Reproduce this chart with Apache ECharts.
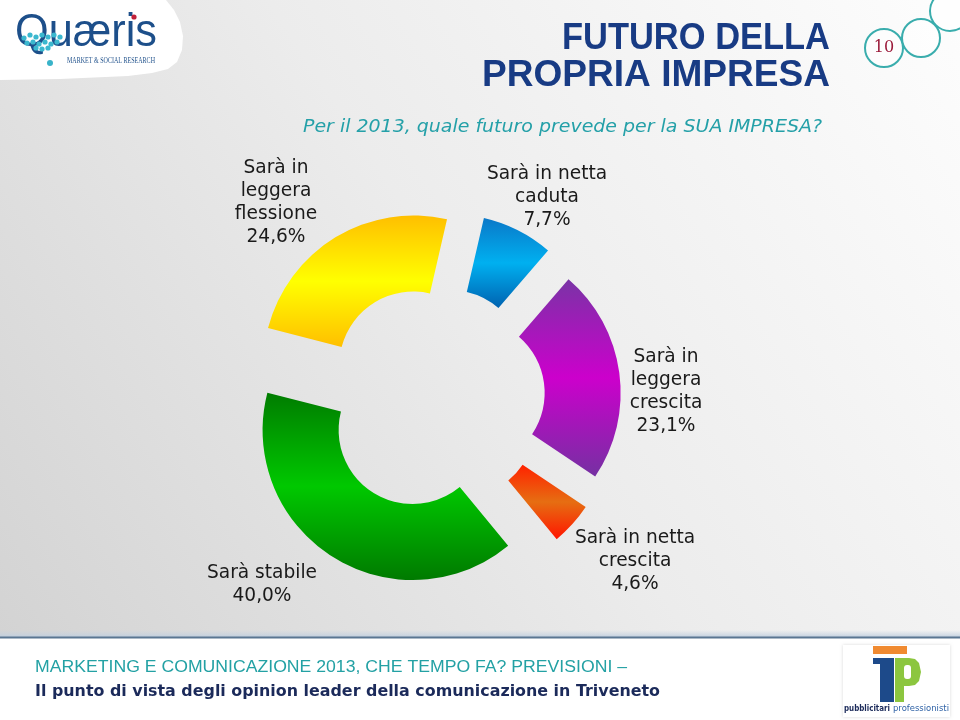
<!DOCTYPE html>
<html>
<head>
<meta charset="utf-8">
<script src="https://cdn.jsdelivr.net/npm/echarts@6/dist/echarts.min.js"></script>
<style>html,body{margin:0;padding:0;background:#fff}#c{width:960px;height:720px}</style>
</head>
<body>
<div id="c"></div>
<script>
// ---- data ----
const categories = ['Sarà in netta\ncaduta', 'Sarà in\nleggera\ncrescita', 'Sarà in netta\ncrescita', 'Sarà stabile', 'Sarà in\nleggera\nflessione'];
const values = [7.7, 23.1, 4.6, 40.0, 24.6];
const titleLines = ['FUTURO DELLA', 'PROPRIA IMPRESA'];
const subtitle = 'Per il 2013, quale futuro prevede per la SUA IMPRESA?';
const footer1 = 'MARKETING E COMUNICAZIONE 2013, CHE TEMPO FA? PREVISIONI –';
const footer2 = 'Il punto di vista degli opinion leader della comunicazione in Triveneto';
const pageNo = '10';

// ---- styles / layout ----
const sliceColors = [
  ['#0a78c8', '#00b0f0', '#0062b0'],
  ['#7a33a6', '#cc00cc', '#7530a2'],
  ['#ff2200', '#e66e12', '#ff1500'],
  ['#007c00', '#00c800', '#007a00'],
  ['#ffbf00', '#ffff00', '#ffbf00']
];
const labelPos = [[547, 197], [666, 392], [635, 561], [262, 585], [276, 203]];

function measure(text, font) {
  const ctx = document.createElement('canvas').getContext('2d');
  ctx.font = font;
  return ctx.measureText(text).width;
}
function fitText(text, font, x, y, width, fill, align) {
  const s = width / measure(text, font);
  return {
    type: 'text', x: x, y: y, scaleX: s, z: 5,
    style: { text: text, font: font, fill: fill, textAlign: align, align: align,
             textVerticalAlign: 'middle', verticalAlign: 'middle' }
  };
}
function fmt(v) { return v.toFixed(1).replace('.', ',') + '%'; }

const chart = echarts.init(document.getElementById('c'), null, { renderer: 'canvas' });

const titleFont = 'bold 36px "Liberation Sans"';
const graphics = [
  // background
  { type: 'rect', z: -10, shape: { x: 0, y: 0, width: 960, height: 637 },
    style: { fill: { type: 'linear', x: 1, y: 0, x2: 0, y2: 1,
      colorStops: [{ offset: 0, color: '#fdfdfd' }, { offset: 0.5, color: '#ececec' }, { offset: 1, color: '#d3d3d3' }] } } },
  { type: 'rect', z: -10, shape: { x: 0, y: 637, width: 960, height: 83 }, style: { fill: '#ffffff' } },
  { type: 'rect', z: -9, shape: { x: 0, y: 630, width: 960, height: 7 },
    style: { fill: { type: 'linear', x: 0, y: 0, x2: 0, y2: 1,
      colorStops: [{ offset: 0, color: 'rgba(200,212,225,0)' }, { offset: 1, color: 'rgba(190,205,222,0.9)' }] } } },
  { type: 'line', z: -8, shape: { x1: 0, y1: 637.5, x2: 960, y2: 637.5 }, style: { stroke: '#5a7692', lineWidth: 2 } },
  // logo blob
  { type: 'polygon', z: -5, shape: { points: [[0,0],[166,0],[174,10],[180,22],[183,36],[182,50],[177,62],[168,69],[152,73],[128,76],[60,79],[0,80]] },
    style: { fill: '#ffffff' } },
  fitText('Quæris', '46px "Liberation Sans"', 15, 33, 142, '#1d4f8a', 'left'),
  fitText('MARKET & SOCIAL RESEARCH', '9px "Liberation Serif"', 67, 61, 88, '#1d4f8a', 'left'),
  { type: 'circle', z: 6, shape: { cx: 134, cy: 17, r: 2.6 }, style: { fill: '#c0203a' } },
  { type: 'circle', z: 6, shape: { cx: 50, cy: 63, r: 3 }, style: { fill: '#39b3c9' } },
  // titles
  fitText(titleLines[0], titleFont, 830, 39, 268, '#183b84', 'right'),
  fitText(titleLines[1], titleFont, 830, 76, 348, '#183b84', 'right'),
  fitText(subtitle, 'italic 18px "DejaVu Sans"', 303, 127, 519, '#24a0a8', 'left'),
  // circles
  { type: 'circle', z: 5, shape: { cx: 884, cy: 48, r: 19 }, style: { fill: 'rgba(255,255,255,0.6)', stroke: '#3aadad', lineWidth: 2 } },
  { type: 'circle', z: 5, shape: { cx: 921, cy: 38, r: 19 }, style: { fill: 'rgba(255,255,255,0.6)', stroke: '#3aadad', lineWidth: 2 } },
  { type: 'circle', z: 5, shape: { cx: 950, cy: 11, r: 20 }, style: { fill: 'rgba(255,255,255,0.6)', stroke: '#3aadad', lineWidth: 2 } },
  { type: 'text', z: 6, x: 884, y: 48, style: { text: pageNo, font: '16px "DejaVu Serif"', fill: '#9b1a3a',
      textAlign: 'center', align: 'center', textVerticalAlign: 'middle', verticalAlign: 'middle' } },
  // footer
  fitText(footer1, '16px "Liberation Sans"', 35, 668, 592, '#23a1a4', 'left'),
  fitText(footer2, 'bold 16px "DejaVu Sans"', 35, 692, 625, '#1b2a5a', 'left'),
  // TP logo
  { type: 'rect', z: 5, shape: { x: 843, y: 645, width: 107, height: 72 }, style: { fill: '#ffffff', shadowBlur: 3, shadowColor: 'rgba(0,0,0,0.15)' } },
  { type: 'rect', z: 6, shape: { x: 873, y: 646, width: 34, height: 8 }, style: { fill: '#f08a30' } },
  { type: 'rect', z: 6, shape: { x: 873, y: 658, width: 21, height: 6 }, style: { fill: '#1d4a8a' } },
  { type: 'rect', z: 6, shape: { x: 880, y: 658, width: 14, height: 44 }, style: { fill: '#1d4a8a' } },
  { type: 'polygon', z: 6, shape: { points: [[895,658],[909,658],[915,659],[919,663],[921,672],[919,681],[915,685],[909,686],[904,686],[904,702],[895,702]] }, style: { fill: '#8cc63f' } },
  { type: 'rect', z: 7, shape: { x: 904, y: 665, width: 7, height: 14, r: 3 }, style: { fill: '#ffffff' } },
  fitText('pubblicitari', 'bold 8px "DejaVu Sans"', 844, 709, 46, '#1b2a5a', 'left'),
  fitText('professionisti', '8px "DejaVu Sans"', 893, 709, 56, '#2f62a6', 'left')
];
// bubbles in the Q
[[24,38],[30,35],[36,37],[42,35],[48,37],[54,35],[60,37],[27,43],[33,42],[39,44],[45,42],[51,44],[57,42],[36,48],[42,49],[48,48]].forEach(function (p) {
  graphics.push({ type: 'circle', z: 6, shape: { cx: p[0], cy: p[1], r: 2.6 }, style: { fill: '#3bb8cf' } });
});
// slice labels (text taken from the data arrays)
categories.forEach(function (n, i) {
  graphics.push({ type: 'text', z: 8, x: labelPos[i][0], y: labelPos[i][1],
    style: { text: n + '\n' + fmt(values[i]), font: '18.6px "DejaVu Sans"', lineHeight: 23, fill: '#1a1a1a',
      textAlign: 'center', align: 'center', textVerticalAlign: 'middle', verticalAlign: 'middle' } });
});

chart.setOption({
  animation: false,
  graphic: graphics,
  series: [{
    type: 'pie',
    center: [433, 398],
    radius: [74, 150],
    startAngle: 77,
    clockwise: true,
    selectedMode: 'multiple',
    selectedOffset: 38,
    avoidLabelOverlap: false,
    emphasis: { disabled: true },
    z: 3,
    data: categories.map(function (n, i) {
      return {
        name: n, value: values[i], selected: true,
        itemStyle: { color: { type: 'linear', x: 0, y: 0, x2: 0, y2: 1,
          colorStops: [{ offset: 0, color: sliceColors[i][0] }, { offset: 0.5, color: sliceColors[i][1] }, { offset: 1, color: sliceColors[i][2] }] } }
      };
    }),
    label: { show: false },
    labelLine: { show: false }
  }]
});
</script>
</body>
</html>
